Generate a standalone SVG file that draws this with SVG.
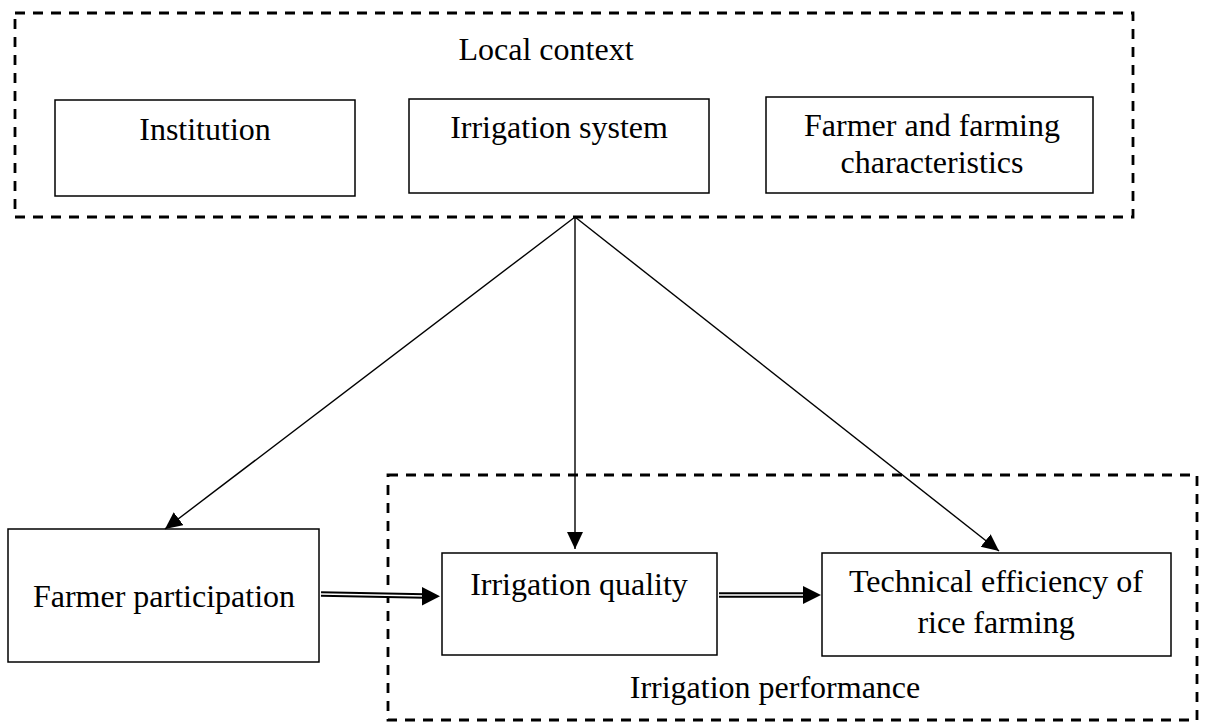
<svg xmlns="http://www.w3.org/2000/svg" width="1205" height="722" viewBox="0 0 1205 722">
<style>
  .box{fill:#fff;stroke:#000;stroke-width:1.5}
  .dash{fill:none;stroke:#000;stroke-width:2.8;stroke-dasharray:10 8}
  .t{font-family:"Liberation Serif","Times New Roman",serif;font-size:32px;fill:#000;text-anchor:middle}
  .ln{stroke:#000;stroke-width:1.4;fill:none}
  .dbo{stroke:#000;stroke-width:5.5;fill:none}
  .dbi{stroke:#fff;stroke-width:1.6;fill:none}
</style>
<defs>
  <marker id="ah" markerUnits="userSpaceOnUse" markerWidth="18" markerHeight="17" refX="17" refY="8" orient="auto">
    <path d="M0,0 L17,8 L0,16 z" fill="#000"/>
  </marker>
</defs>
<rect width="1205" height="722" fill="#fff"/>
<g id="local-context">
  <rect class="dash" x="15" y="13" width="1118" height="204"/>
  <text class="t" x="546" y="60">Local context</text>
</g>
<g id="irrigation-performance">
  <rect class="dash" x="388" y="475" width="809" height="245"/>
  <text class="t" x="775" y="698">Irrigation performance</text>
</g>
<g id="institution">
  <rect class="box" x="55" y="100" width="300" height="96"/>
  <text class="t" x="205" y="140">Institution</text>
</g>
<g id="irrigation-system">
  <rect class="box" x="409" y="99" width="300" height="94"/>
  <text class="t" x="559" y="138">Irrigation system</text>
</g>
<g id="farmer-characteristics">
  <rect class="box" x="766" y="97" width="327" height="96"/>
  <text class="t" x="932" y="136">Farmer and farming</text>
  <text class="t" x="932" y="173">characteristics</text>
</g>
<g id="farmer-participation">
  <rect class="box" x="8" y="529" width="311" height="133"/>
  <text class="t" x="164" y="607">Farmer participation</text>
</g>
<g id="irrigation-quality">
  <rect class="box" x="442" y="553" width="275" height="102"/>
  <text class="t" x="579" y="595">Irrigation quality</text>
</g>
<g id="technical-efficiency">
  <rect class="box" x="822" y="553" width="349" height="103"/>
  <text class="t" x="996" y="592">Technical efficiency of</text>
  <text class="t" x="996" y="633">rice farming</text>
</g>
<g id="connectors">
  <line class="ln" x1="575" y1="217" x2="165" y2="529" marker-end="url(#ah)"/>
  <line class="ln" x1="575" y1="217" x2="575" y2="549" marker-end="url(#ah)"/>
  <line class="ln" x1="575" y1="217" x2="999" y2="551" marker-end="url(#ah)"/>
  <line class="dbo" x1="321" y1="594" x2="425" y2="596"/>
  <line class="dbi" x1="321" y1="594" x2="425" y2="596"/>
  <path d="M422,587 L440,596.3 L422,605.5 z" fill="#000"/>
  <line class="dbo" x1="719" y1="595" x2="806" y2="595"/>
  <line class="dbi" x1="719" y1="595" x2="806" y2="595"/>
  <path d="M803,586 L821,595 L803,604 z" fill="#000"/>
</g>
</svg>
